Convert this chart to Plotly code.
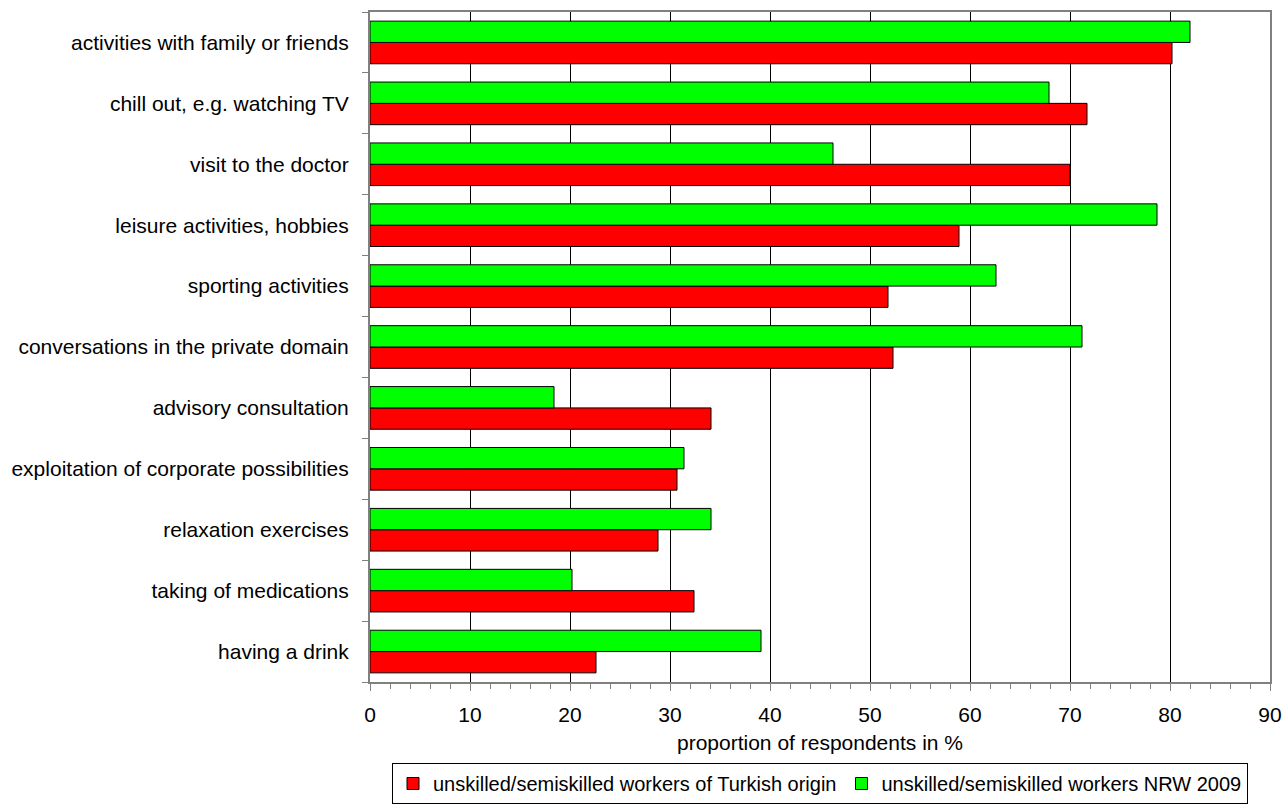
import plotly.graph_objects as go

categories = [
    "activities with family or friends",
    "chill out, e.g. watching TV",
    "visit to the doctor",
    "leisure activities, hobbies",
    "sporting activities",
    "conversations in the private domain",
    "advisory consultation",
    "exploitation of corporate possibilities",
    "relaxation exercises",
    "taking of medications",
    "having a drink",
]
turkish = [80.2, 71.7, 70.0, 58.9, 51.8, 52.3, 34.1, 30.7, 28.8, 32.4, 22.6]
nrw = [82.0, 67.9, 46.3, 78.7, 62.6, 71.2, 18.4, 31.4, 34.1, 20.2, 39.1]
x_ticks = [0, 10, 20, 30, 40, 50, 60, 70, 80, 90]

FONT = "Liberation Sans, Arial, sans-serif"
FS = 21

fig = go.Figure()
fig.add_trace(go.Bar(
    y=categories, x=turkish, orientation="h",
    name="unskilled/semiskilled workers of Turkish origin",
    marker=dict(color="#FF0000", line=dict(color="#000000", width=1)),
))
fig.add_trace(go.Bar(
    y=categories, x=nrw, orientation="h",
    name="unskilled/semiskilled workers NRW 2009",
    marker=dict(color="#00FF00", line=dict(color="#000000", width=1)),
))

fig.update_layout(
    width=1285, height=805,
    margin=dict(l=370, r=15, t=12, b=123),
    paper_bgcolor="white", plot_bgcolor="white",
    barmode="group", bargap=0.3, bargroupgap=0,
    font=dict(family=FONT, size=FS, color="#000000"),
    showlegend=True,
    legend=dict(
        orientation="h", x=0.5, xanchor="center", xref="paper",
        y=(805 - 763) / 805, yanchor="top", yref="container",
        bordercolor="#000000", borderwidth=1, bgcolor="white",
        font=dict(family=FONT, size=20), traceorder="normal",
        itemwidth=30, tracegroupgap=0,
    ),
    xaxis=dict(
        range=[0, 90], tickvals=x_ticks, ticktext=[str(v) for v in x_ticks],
        showgrid=True, gridcolor="#000000", gridwidth=1,
        showline=True, linecolor="#808080", linewidth=2, mirror=True,
        ticks="outside", ticklen=7, tickcolor="#808080", tickwidth=1,
        minor=dict(dtick=2, ticks="outside", ticklen=5, tickcolor="#808080", showgrid=False),
        zeroline=False, automargin=False, ticklabelstandoff=6,
        title=dict(text="proportion of respondents in %", standoff=10,
                   font=dict(family=FONT, size=FS)),
        tickfont=dict(family=FONT, size=FS),
    ),
    yaxis=dict(
        categoryorder="array", categoryarray=categories[::-1],
        tickson="boundaries", ticks="outside", ticklen=6, tickcolor="#808080",
        showline=True, linecolor="#808080", linewidth=2, mirror=True,
        showgrid=False, ticklabelstandoff=15, automargin=False,
        tickfont=dict(family=FONT, size=FS),
    ),
)

fig.write_html("out.html")
